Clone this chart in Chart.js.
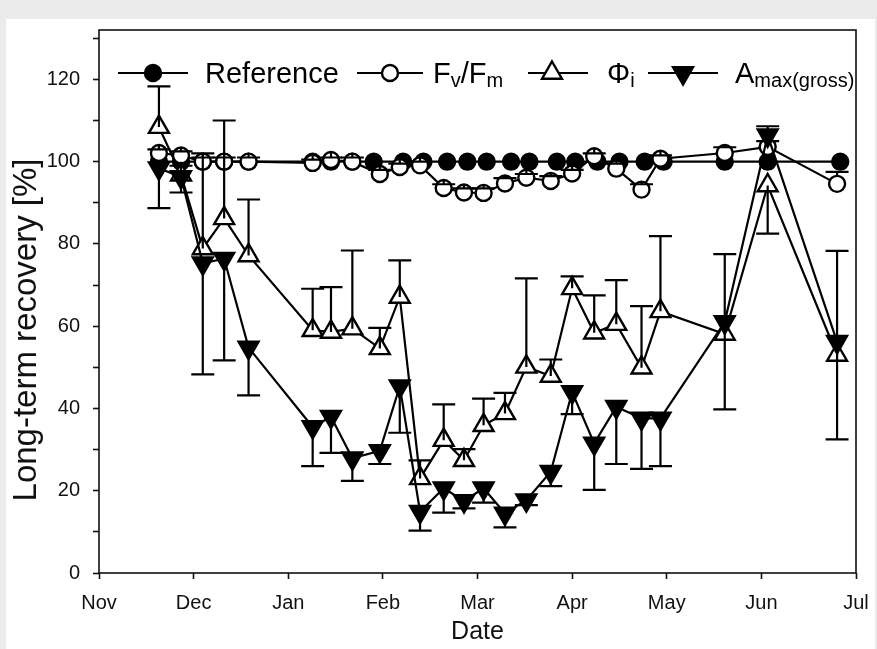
<!DOCTYPE html>
<html>
<head>
<meta charset="utf-8">
<script src="https://cdn.jsdelivr.net/npm/chart.js@4.4.1/dist/chart.umd.min.js"></script>
<style>
  html, body { margin: 0; padding: 0; background: #ebebeb; overflow: hidden; }
  #panel { position: absolute; left: 6px; top: 19px; width: 869px; height: 630px; background: #fff; }
  #wrap { position: absolute; left: 0; top: 0; width: 877px; height: 649px; }
</style>
</head>
<body>
<div id="panel"></div>
<div id="wrap"><canvas id="recovery" width="877" height="649"></canvas></div>
<script>
// --- data ---
const monthLabels = ['Nov', 'Dec', 'Jan', 'Feb', 'Mar', 'Apr', 'May', 'Jun', 'Jul'];
const yTickValues = [0, 10, 20, 30, 40, 50, 60, 70, 80, 90, 100, 110, 120, 130];

// sampling dates (month-day), season runs Nov -> Jul
const sampleDates = ['11-20', '11-27', '12-04', '12-11', '12-19', '01-09', '01-15', '01-22', '01-31',
  '02-06', '02-12', '02-19', '02-25', '03-03', '03-10', '03-17', '03-25', '04-01', '04-08',
  '04-15', '04-23', '04-29', '05-20', '06-03', '06-25'];
const referenceDates = ['11-20', '11-27', '12-04', '12-11', '12-19', '01-09', '01-15', '01-22', '01-29',
  '02-07', '02-13', '02-20', '02-26', '03-04', '03-12', '03-18', '03-27', '04-02', '04-09',
  '04-16', '04-24', '04-30', '05-20', '06-03', '06-26'];

const referenceValues = [100, 100, 100, 100, 100, 100, 100, 100, 100, 100, 100, 100, 100,
  100, 100, 100, 100, 100, 100, 100, 100, 100, 100, 100, 100];

const fvfmValues = [102.1, 101.5, 100, 100, 100, 99.7, 100.4, 100, 97.0, 98.7, 99.1, 93.6, 92.5,
  92.4, 94.7, 96.1, 95.3, 97.1, 101.3, 98.3, 93.2, 100.7, 102.1, 103.6, 94.6];
const fvfmErrEnds = [103, 102.5, 101, 101, 101, 100.5, 101, 101, 98, 99.5, 100, 94.5, 93.5,
  93.5, 96, 97, 96.5, 98, 102, 99.5, 94.5, 101.5, 103.5, 105, 97.5];

const phiValues = [108.4, 96.8, 78.9, 86.2, 77.2, 59.0, 58.6, 59.4, 54.6, 67.1, 23.0, 32.3, 27.4,
  35.9, 38.8, 50.1, 47.9, 69.2, 58.4, 60.5, 49.9, 63.6, 58.1, 94.2, 53.0];
const phiErrEnds = [118.3, 99, 102, 110, 90.8, 69.1, 69.5, 78.4, 59.6, 76.0, 27.4, 41.0, 30.1,
  42.4, 43.8, 71.6, 51.9, 72.1, 67.5, 71.2, 64.9, 81.9, 77.5, 82.5, 78.3];

const amaxValues = [98.4, 96.3, 75.3, 76.4, 54.8, 35.5, 38.0, 27.9, 29.7, 45.4, 14.9, 20.6, 17.5,
  20.6, 14.5, 17.7, 24.6, 44.0, 31.5, 40.4, 37.6, 37.6, 61.0, 106.4, 56.2];
const amaxErrEnds = [88.7, 92.5, 48.3, 51.7, 43.2, 26.0, 29.2, 22.4, 26.5, 34.1, 10.3, 14.7, 15.7,
  17.1, 11.1, 16.5, 21.1, 38.6, 20.2, 26.5, 25.3, 26.0, 39.8, 108.6, 32.5];

// --- helpers ---
// month axis: Nov = 0 ... Jul = 8, every month the same width
const monthIndex = { 11: 0, 12: 1, 1: 2, 2: 3, 3: 4, 4: 5, 5: 6, 6: 7, 7: 8 };
const monthDays = { 11: 30, 12: 31, 1: 31, 2: 28, 3: 31, 4: 30, 5: 31, 6: 30, 7: 31 };

function datePos(md) {
  const [m, d] = md.split('-').map(Number);
  return monthIndex[m] + (d - 1) / monthDays[m];
}

function toPoints(dates, values) {
  return values.map((v, i) => ({ x: datePos(dates[i]), y: v }));
}

const FONT = '"Liberation Sans", Arial, sans-serif';

// error bars drawn through the library's scales
const errorBarPlugin = {
  id: 'errorBars',
  afterDatasetsDraw(chart) {
    const { ctx, scales: { x, y } } = chart;
    ctx.save();
    ctx.strokeStyle = '#000';
    ctx.lineWidth = 2.2;
    chart.data.datasets.forEach(ds => {
      if (!ds.errEnds) return;
      ds.data.forEach((p, i) => {
        const end = ds.errEnds[i];
        if (end == null) return;
        const px = x.getPixelForValue(p.x);
        const py = y.getPixelForValue(p.y);
        const pe = y.getPixelForValue(end);
        const dir = pe < py ? -1 : 1;
        ctx.beginPath();
        ctx.moveTo(px, py + dir * (ds.errGap || 0));
        ctx.lineTo(px, pe);
        ctx.moveTo(px - 11.5, pe);
        ctx.lineTo(px + 11.5, pe);
        ctx.stroke();
      });
    });
    ctx.restore();
  }
};

// box around the plot area + rotated y title
const framePlugin = {
  id: 'frame',
  beforeDatasetsDraw(chart) {
    const { ctx, chartArea: a } = chart;
    ctx.save();
    ctx.strokeStyle = '#111';
    ctx.lineWidth = 1.6;
    ctx.strokeRect(a.left, a.top, a.right - a.left, a.bottom - a.top);
    ctx.translate(27, 330);
    ctx.rotate(-Math.PI / 2);
    ctx.fillStyle = '#111';
    ctx.font = '33px ' + FONT;
    ctx.textAlign = 'center';
    ctx.textBaseline = 'middle';
    ctx.fillText('Long-term recovery [%]', 0, 0);
    ctx.restore();
  }
};

// legend with subscripts, drawn in one row inside the plot
const legendPlugin = {
  id: 'subLegend',
  afterDraw(chart) {
    const { ctx } = chart;
    const rowY = 73;
    const items = [
      { style: 'circle', r: 8, fill: '#000', rot: 0, line: [118, 188], mark: 153, textX: 205,
        parts: [['Reference', 0]] },
      { style: 'circle', r: 8, fill: '#fff', rot: 0, line: [357, 423], mark: 390, textX: 433,
        parts: [['F', 0], ['v', 1], ['/F', 0], ['m', 1]] },
      { style: 'triangle', r: 11.5, fill: '#fff', rot: 0, line: [528, 588], mark: 552, textX: 607,
        parts: [['\u03A6', 0], ['i', 1]] },
      { style: 'triangle', r: 11.5, fill: '#000', rot: 180, line: [648, 718], mark: 683, textX: 735,
        parts: [['A', 0], ['max(gross)', 1]] }
    ];
    ctx.save();
    items.forEach(it => {
      ctx.strokeStyle = '#000';
      ctx.lineWidth = 2.2;
      ctx.beginPath();
      ctx.moveTo(it.line[0], rowY);
      ctx.lineTo(it.line[1], rowY);
      ctx.stroke();
      ctx.fillStyle = it.fill;
      ctx.lineWidth = 2.4;
      Chart.helpers.drawPoint(ctx, { pointStyle: it.style, radius: it.r, rotation: it.rot, borderWidth: 2.4 }, it.mark, rowY);
      ctx.fillStyle = '#000';
      ctx.textBaseline = 'alphabetic';
      ctx.textAlign = 'left';
      let tx = it.textX;
      it.parts.forEach(([txt, sub]) => {
        ctx.font = (sub ? '20px ' : '29px ') + FONT;
        ctx.fillText(txt, tx, sub ? 87 : 83);
        tx += ctx.measureText(txt).width;
      });
    });
    ctx.restore();
  }
};

const markerBase = { borderColor: '#000', borderWidth: 2.2, pointBorderColor: '#000', pointBorderWidth: 2.4, tension: 0 };

new Chart(document.getElementById('recovery'), {
  type: 'line',
  data: {
    datasets: [
      Object.assign({ label: 'Amax(gross)', data: toPoints(sampleDates, amaxValues), errEnds: amaxErrEnds,
        pointStyle: 'triangle', rotation: 180, pointRadius: 11.5, pointBackgroundColor: '#000', order: 0 }, markerBase),
      Object.assign({ label: 'Phi_i', data: toPoints(sampleDates, phiValues), errEnds: phiErrEnds,
        pointStyle: 'triangle', pointRadius: 11.5, pointBackgroundColor: '#fff', order: 1 }, markerBase),
      Object.assign({ label: 'Fv/Fm', data: toPoints(sampleDates, fvfmValues), errEnds: fvfmErrEnds, errGap: 8,
        pointStyle: 'circle', pointRadius: 8, pointBackgroundColor: '#fff', order: 2 }, markerBase),
      Object.assign({ label: 'Reference', data: toPoints(referenceDates, referenceValues),
        pointStyle: 'circle', pointRadius: 8, pointBackgroundColor: '#000', order: 3 }, markerBase)
    ]
  },
  options: {
    responsive: false,
    animation: false,
    events: [],
    layout: { padding: { left: 0, top: 30, right: 21, bottom: 0 } },
    plugins: { legend: { display: false }, tooltip: { enabled: false } },
    scales: {
      x: {
        type: 'linear',
        min: 0,
        max: 8,
        afterFit: s => { s.height = 76; s.paddingLeft = 0; s.paddingRight = 0; },
        afterBuildTicks: s => { s.ticks = monthLabels.map((_, i) => ({ value: i })); },
        ticks: {
          autoSkip: false,
          maxRotation: 0,
          padding: 12,
          color: '#111',
          font: { family: FONT, size: 20 },
          callback: v => monthLabels[v]
        },
        grid: { drawOnChartArea: false, tickLength: 6, color: '#111', tickWidth: 1.6 },
        border: { display: false },
        title: { display: true, text: 'Date', color: '#111', font: { family: FONT, size: 25 }, padding: { top: 0, bottom: 2 } }
      },
      y: {
        min: 0,
        max: 132,
        afterFit: s => { s.width = 99; s.paddingTop = 0; s.paddingBottom = 0; },
        afterBuildTicks: s => { s.ticks = yTickValues.map(v => ({ value: v })); },
        ticks: {
          autoSkip: false,
          padding: 13,
          color: '#111',
          font: { family: FONT, size: 20 },
          callback: v => (v % 20 === 0 ? v : '')
        },
        grid: { drawOnChartArea: false, tickLength: 6, color: '#111', tickWidth: 1.6 },
        border: { display: false },
        title: { display: false }
      }
    }
  },
  plugins: [framePlugin, errorBarPlugin, legendPlugin]
});
</script>
</body>
</html>
